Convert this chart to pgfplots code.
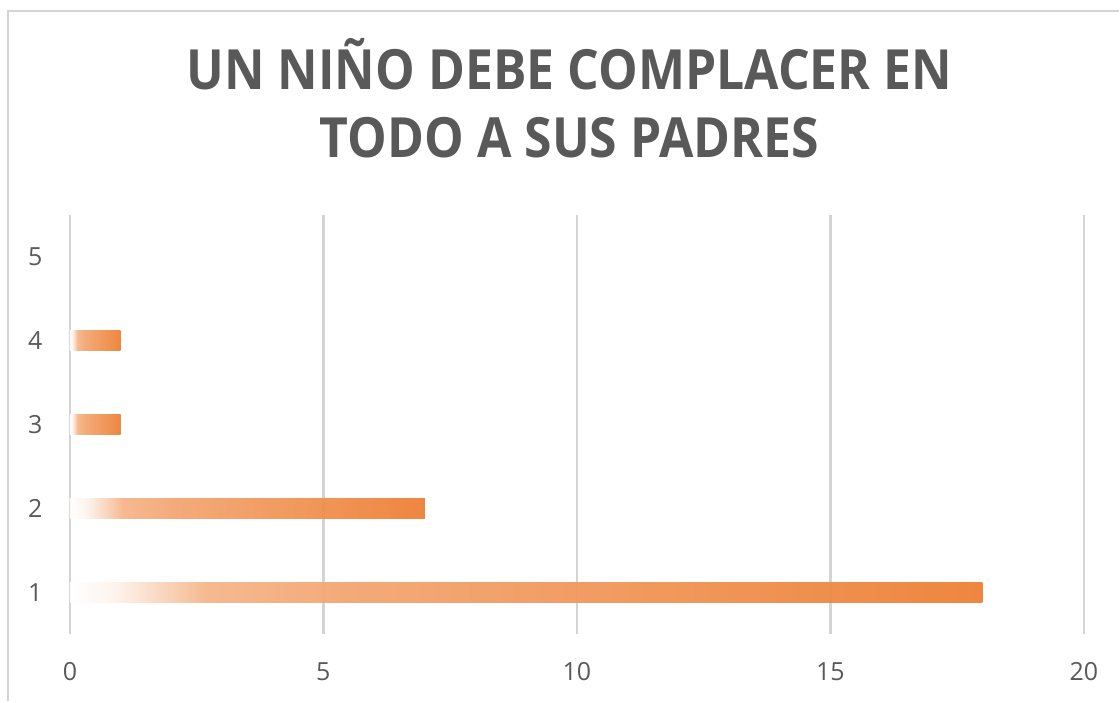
\documentclass[border=0pt]{standalone}
\usepackage{fontspec}
\setmainfont{Open Sans}
\newfontfamily\titlefont[FakeStretch=0.9]{Open Sans}
\usepackage{pgfplots}
\pgfplotsset{compat=1.18}

\definecolor{barOrange}{HTML}{ED7D31}
\definecolor{inkGray}{HTML}{595959}
\definecolor{gridGray}{HTML}{D4D4D4}

% white on the left, full orange at the bar end (visible part is 25bp..75bp)
\pgfdeclarehorizontalshading{barfade}{100bp}{
  color(0bp)=(white); color(25bp)=(white);
  color(27.5bp)=(barOrange!10); color(30bp)=(barOrange!33);
  color(32.5bp)=(barOrange!58); color(40bp)=(barOrange!70);
  color(55bp)=(barOrange!83); color(75bp)=(barOrange);
  color(100bp)=(barOrange)}

\pgfplotsset{
  fadebar/.style={draw=none, shading=barfade, shading angle=0, fill opacity=0.93},
}

\begin{document}
\begin{tikzpicture}
\begin{axis}[name=ax,
  scale only axis, width=1015pt, height=420pt,
  xbar, bar width=20pt, bar shift=0pt,
  xmin=0, xmax=20, ymin=0.5, ymax=5.5,
  xtick={0,5,...,20}, ytick={1,...,5},
  xmajorgrids, major grid style={gridGray, line width=2.5pt},
  axis line style={draw=none}, tick style={draw=none},
  tick label style={font=\fontsize{25}{30}\selectfont, text=inkGray,
    /pgf/number format/assume math mode=true},
  yticklabel style={inner sep=0pt, xshift=-23pt},
  xticklabel style={inner sep=0pt, yshift=-28pt}]
% one plot per bar so that each bar gets its own gradient
\addplot[fadebar] coordinates {(18,1)};
\addplot[fadebar] coordinates {(7,2)};
\addplot[fadebar] coordinates {(1,3)};
\addplot[fadebar] coordinates {(1,4)};
\addplot[draw=none, fill=none] coordinates {(0,5)};
\end{axis}
% title, two lines
\node[anchor=base, text=inkGray, font=\titlefont\bfseries\fontsize{55.5}{66}\selectfont]
  at ([xshift=-7.5pt, yshift=125pt]ax.north) {UN NIÑO DEBE COMPLACER EN};
\node[anchor=base, text=inkGray, font=\titlefont\bfseries\fontsize{55.5}{66}\selectfont]
  at ([xshift=-7.5pt, yshift=57pt]ax.north) {TODO A SUS PADRES};
% chart frame (only its top and left edges are in view)
\draw[gridGray, line width=2.5pt]
  ([xshift=-62pt, yshift=-67pt]ax.south west) |- ([xshift=1050pt, yshift=204pt]ax.north west);
% page size
\path ([xshift=-70pt, yshift=-67pt]ax.south west) rectangle ([xshift=1050pt, yshift=215pt]ax.north west);
\end{tikzpicture}
\end{document}
